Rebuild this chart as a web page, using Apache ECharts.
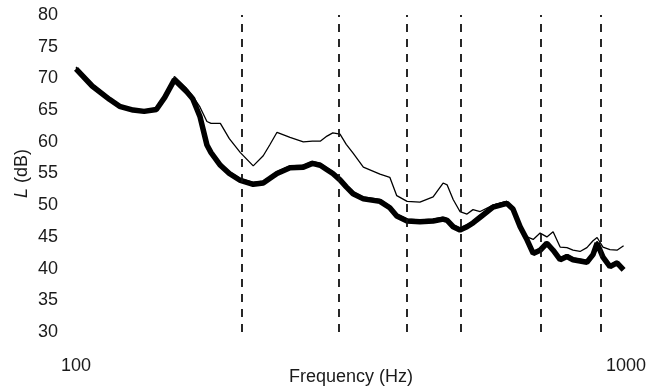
<!DOCTYPE html>
<html>
<head>
<meta charset="utf-8">
<script src="https://cdn.jsdelivr.net/npm/echarts@6/dist/echarts.min.js"></script>
<style>
  html, body { margin: 0; padding: 0; background: #fff; }
  #chart { width: 663px; height: 390px; }
</style>
</head>
<body>
<div id="chart"></div>
<script>
// frequency grid (Hz), shared by all curves
var freqs = [100, 107, 115, 120, 127, 133, 140, 145, 151, 159, 163, 168, 173, 176, 183, 190, 199,
    210, 219, 225, 232, 245, 259, 269, 278, 286, 293, 302, 310, 319, 333, 357, 372, 383, 400,
    422, 446, 465, 473, 485, 499, 514, 527, 543, 573, 607, 623, 642, 661, 678, 698, 718, 737,
    759, 781, 801, 825, 849, 871, 886, 908, 935, 963, 990];

// thick curve
var levelThick = [71.5, 68.8, 66.7, 65.6, 65.0, 64.8, 65.1, 67.0, 69.8, 67.9, 66.8, 64.0, 59.5, 58.3, 56.3, 55.0, 53.9,
    53.3, 53.5, 54.2, 55.0, 55.9, 56.0, 56.6, 56.3, 55.6, 55.0, 54.0, 52.9, 51.8, 51.0, 50.6, 49.6, 48.3, 47.5,
    47.4, 47.5, 47.8, 47.6, 46.6, 46.1, 46.6, 47.2, 48.1, 49.7, 50.3, 49.4, 46.6, 44.5, 42.4, 42.9, 44.0, 42.9,
    41.4, 41.9, 41.4, 41.2, 41.0, 42.2, 44.0, 41.8, 40.3, 40.9, 39.8];

// thin curve, higher between 170 and 550 Hz
var levelMid = [71.6, 68.9, 66.8, 65.7, 65.1, 64.9, 65.2, 67.2, 70.3, 68.4, 67.2, 65.5, 63.2, 62.9, 62.9, 60.5, 58.3,
    56.2, 57.8, 59.5, 61.5, 60.7, 60.0, 60.1, 60.1, 60.9, 61.4, 61.2, 59.6, 58.2, 56.0, 54.9, 54.4, 51.5, 50.6,
    50.5, 51.3, 53.5, 53.2, 50.9, 49.0, 48.6, 49.3, 49.0, 50.0, 50.6, 49.6, 46.8, 44.8, 42.7, 43.2, 44.3, 43.2,
    41.7, 42.2, 41.7, 41.5, 41.3, 42.5, 44.3, 42.1, 40.6, 41.2, 40.1];

// thin curve, higher above 650 Hz
var levelHigh = [71.8, 69.1, 67.0, 65.8, 65.2, 65.0, 65.3, 67.1, 70.0, 68.1, 67.0, 64.3, 59.8, 58.6, 56.6, 55.3, 54.2,
    53.6, 53.8, 54.5, 55.3, 56.2, 56.3, 56.9, 56.6, 55.9, 55.3, 54.3, 53.2, 52.1, 51.3, 50.9, 49.9, 48.6, 47.8,
    47.7, 47.8, 48.1, 47.9, 46.9, 46.4, 46.9, 47.5, 48.4, 50.0, 50.6, 49.7, 46.8, 45.0, 44.6, 45.6, 45.0, 45.8,
    43.4, 43.3, 42.9, 42.7, 43.3, 44.4, 44.9, 43.4, 43.0, 42.9, 43.6];

// dashed reference frequencies
var markFreqs = [200, 300, 400, 500, 700, 900];

function pairs(levels) {
    var out = [];
    for (var i = 0; i < freqs.length; i++) {
        out.push([freqs[i], levels[i]]);
    }
    return out;
}

var textColor = '#1a1a1a';
var fontFamily = 'Liberation Sans, Arial, sans-serif';

var myChart = echarts.init(document.getElementById('chart'), null, { renderer: 'canvas' });

myChart.setOption({
    animation: false,
    backgroundColor: '#fff',
    grid: { left: 76, right: 37, top: 15, bottom: 58, outerBoundsMode: 'none' },
    xAxis: {
        type: 'log',
        logBase: 10,
        min: 100,
        max: 1000,
        name: 'Frequency (Hz)',
        nameLocation: 'middle',
        nameGap: 36,
        nameMoveOverlap: false,
        nameTextStyle: { fontSize: 18, color: textColor, fontFamily: fontFamily },
        axisLine: { show: false },
        axisTick: { show: false },
        splitLine: { show: false },
        minorSplitLine: { show: false },
        axisLabel: {
            fontSize: 18, color: textColor, margin: 25, fontFamily: fontFamily,
            formatter: function (v) { return String(Math.round(v)); }
        }
    },
    yAxis: {
        type: 'value',
        min: 30,
        max: 80,
        interval: 5,
        name: '{i|L} (dB)',
        nameLocation: 'middle',
        nameGap: 45,
        nameMoveOverlap: false,
        nameTextStyle: {
            fontSize: 18,
            color: textColor,
            fontFamily: fontFamily,
            rich: {
                i: { fontSize: 18, fontStyle: 'italic', color: textColor, fontFamily: fontFamily }
            }
        },
        axisLine: { show: false },
        axisTick: { show: false },
        splitLine: { show: false },
        axisLabel: { fontSize: 18, color: textColor, margin: 18, fontFamily: fontFamily }
    },
    series: [
        {
            type: 'line',
            data: pairs(levelThick),
            showSymbol: false,
            symbol: 'none',
            lineStyle: { color: '#000', width: 5.5 },
            z: 2,
            markLine: {
                silent: true,
                symbol: ['none', 'none'],
                label: { show: false },
                lineStyle: { color: '#111', width: 1.8, type: [8, 7] },
                data: markFreqs.map(function (f) { return { xAxis: f }; })
            }
        },
        {
            type: 'line',
            data: pairs(levelMid),
            showSymbol: false,
            symbol: 'none',
            lineStyle: { color: '#000', width: 1.3 },
            z: 3
        },
        {
            type: 'line',
            data: pairs(levelHigh),
            showSymbol: false,
            symbol: 'none',
            lineStyle: { color: '#000', width: 1.3 },
            z: 3
        }
    ]
});
</script>
</body>
</html>
